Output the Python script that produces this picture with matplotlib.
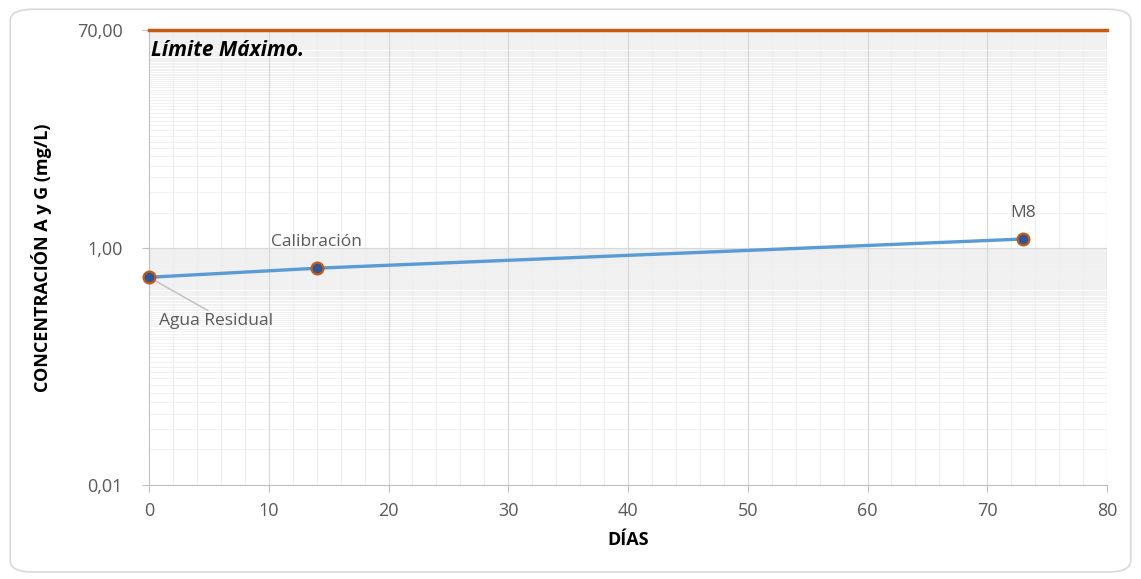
import numpy as np
import matplotlib.pyplot as plt
from matplotlib.patches import FancyBboxPatch

# muestras: dias y concentracion de aceites y grasas
dias = [0, 14, 73]
concentracion = [0.57, 0.68, 1.2]
etiquetas = ['Agua Residual', 'Calibración', 'M8']
limite_maximo = 70.0
y_ticks = [0.01, 1.0, 70.0]
y_tick_labels = ['0,01', '1,00', '70,00']

plt.rcParams['font.family'] = ['Open Sans', 'DejaVu Sans']
gris = '#595959'

fig = plt.figure(figsize=(11.41, 5.79), dpi=100)
fig.patches.append(FancyBboxPatch((0.009, 0.012), 0.982, 0.972, boxstyle='round,pad=0,rounding_size=0.02',
                                  transform=fig.transFigure, fc='white', ec='#d9d9d9', lw=1.2, zorder=-10))
ax = fig.add_axes([0.1306, 0.1623, 0.8396, 0.7857])
ax.set_facecolor('none')

ax.set_yscale('log')
ax.set_ylim(0.01, limite_maximo)
ax.set_xlim(0, 80)

# rejilla secundaria (base 100: multiplos de la marca principal)
minor_y = [k * 0.01 for k in range(2, 100)] + [k * 1.0 for k in range(2, 70)]
for v in minor_y:
    ax.axhline(v, color='#efefef', lw=0.6, zorder=0)
for v in np.arange(2, 80, 2):
    if v % 10:
        ax.axvline(v, color='#eeeeee', lw=0.8, zorder=0)
for v in range(10, 81, 10):
    ax.axvline(v, color='#d9d9d9', lw=0.9, zorder=0.5)
ax.axhline(1.0, color='#d9d9d9', lw=0.9, zorder=0.5)

ax.set_yticks(y_ticks)
ax.set_yticklabels(y_tick_labels)
ax.yaxis.set_minor_locator(plt.NullLocator())
ax.set_xticks(range(0, 81, 10))
ax.tick_params(axis='both', colors='#bfbfbf', labelcolor=gris, labelsize=13, length=5)
ax.tick_params(axis='y', pad=14)
ax.tick_params(axis='x', pad=7)
for s in ['top', 'right']:
    ax.spines[s].set_visible(False)
for s in ['left', 'bottom']:
    ax.spines[s].set_color('#bfbfbf')

# limite maximo
ax.axhline(limite_maximo, color='#C55A11', lw=2.5, zorder=3, clip_on=False)
ax.text(0.2, limite_maximo * 0.82, 'Límite Máximo.', fontsize=15, fontweight='bold', style='italic',
        color='black', va='top', ha='left')

ax.plot(dias, concentracion, color='#5B9BD5', lw=2.4, marker='o', markersize=8.5,
        markerfacecolor='#2F5597', markeredgecolor='#C55A11', markeredgewidth=1.6, zorder=4, clip_on=False)

# etiquetas de datos
ax.annotate(etiquetas[0], xy=(dias[0], concentracion[0]), xytext=(7, -26), textcoords='offset points',
            fontsize=12.5, color=gris, ha='left', va='top',
            arrowprops=dict(arrowstyle='-', color='#bfbfbf', lw=1, shrinkA=0, shrinkB=0,
                            relpos=(0.45, 1.1)))
ax.annotate(etiquetas[1], xy=(dias[1], concentracion[1]), xytext=(0, 13), textcoords='offset points',
            fontsize=12.5, color=gris, ha='center', va='bottom')
ax.annotate(etiquetas[2], xy=(dias[2], concentracion[2]), xytext=(0, 13), textcoords='offset points',
            fontsize=12.5, color=gris, ha='center', va='bottom')

ax.set_xlabel('DÍAS', fontsize=13, fontweight='bold', color='black', labelpad=8)
ax.set_ylabel('CONCENTRACIÓN A y G (mg/L)', fontsize=13, fontweight='bold', color='black', labelpad=18)

fig.savefig('out.png', dpi=100)
